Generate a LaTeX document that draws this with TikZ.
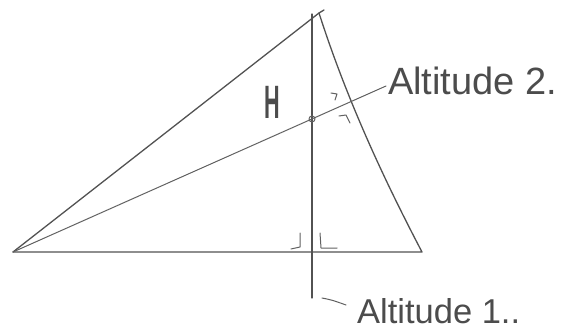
\documentclass[tikz,border=0pt]{standalone}
\usepackage{fontspec}
\setmainfont{Liberation Sans}
\usepackage{graphicx}
\tikzset{
  pen/.style={draw=black!68, line width=1.3pt, line cap=round, line join=round},
  thinpen/.style={draw=black!62, line width=1pt, line cap=round, line join=round},
  hand/.style={text=black!70, inner sep=0pt}
}
\begin{document}
\begin{tikzpicture}[x=1pt,y=-1pt]
\useasboundingbox (0,0) rectangle (566,329);
\coordinate (A) at (13,252);
\coordinate (B) at (422,252);
\coordinate (C) at (319,13);
\coordinate (T1) at (312,14);
\coordinate (F1) at (312,298);
\coordinate (T2) at (386,86);
\coordinate (H) at (intersection of A--T2 and T1--F1);
\draw[pen] (A) -- (C) -- (324,10);
\draw[pen] (C) .. controls (345,94) and (380,172) .. (B) -- (A);
\draw[pen] (T1) -- (F1);
\draw[thinpen] (A) -- (T2);
\draw[thinpen] (H) circle (3);
\draw[thinpen] (300,233) -- (300,247) -- (291,249);
\draw[thinpen] (320,233) -- (321,248) -- (337,248);
\draw[thinpen] (331,93) -- (337,94) -- (335,100);
\draw[thinpen] (339,116) -- (346,115) -- (350,123);
\draw[thinpen] (322,298) .. controls (332,300) .. (346,305);
\node[hand, anchor=base] (Hlabel) at (272,119) {\fontsize{36}{36}\selectfont\scalebox{0.6}[1.3]{\bfseries H}};
\node[hand, anchor=base west] (alt2) at (388,95) {\fontsize{38}{38}\selectfont Altitude 2.};
\node[hand, anchor=base west] (alt1) at (357,323) {\fontsize{34.5}{34.5}\selectfont Altitude 1..};
\end{tikzpicture}
\end{document}
